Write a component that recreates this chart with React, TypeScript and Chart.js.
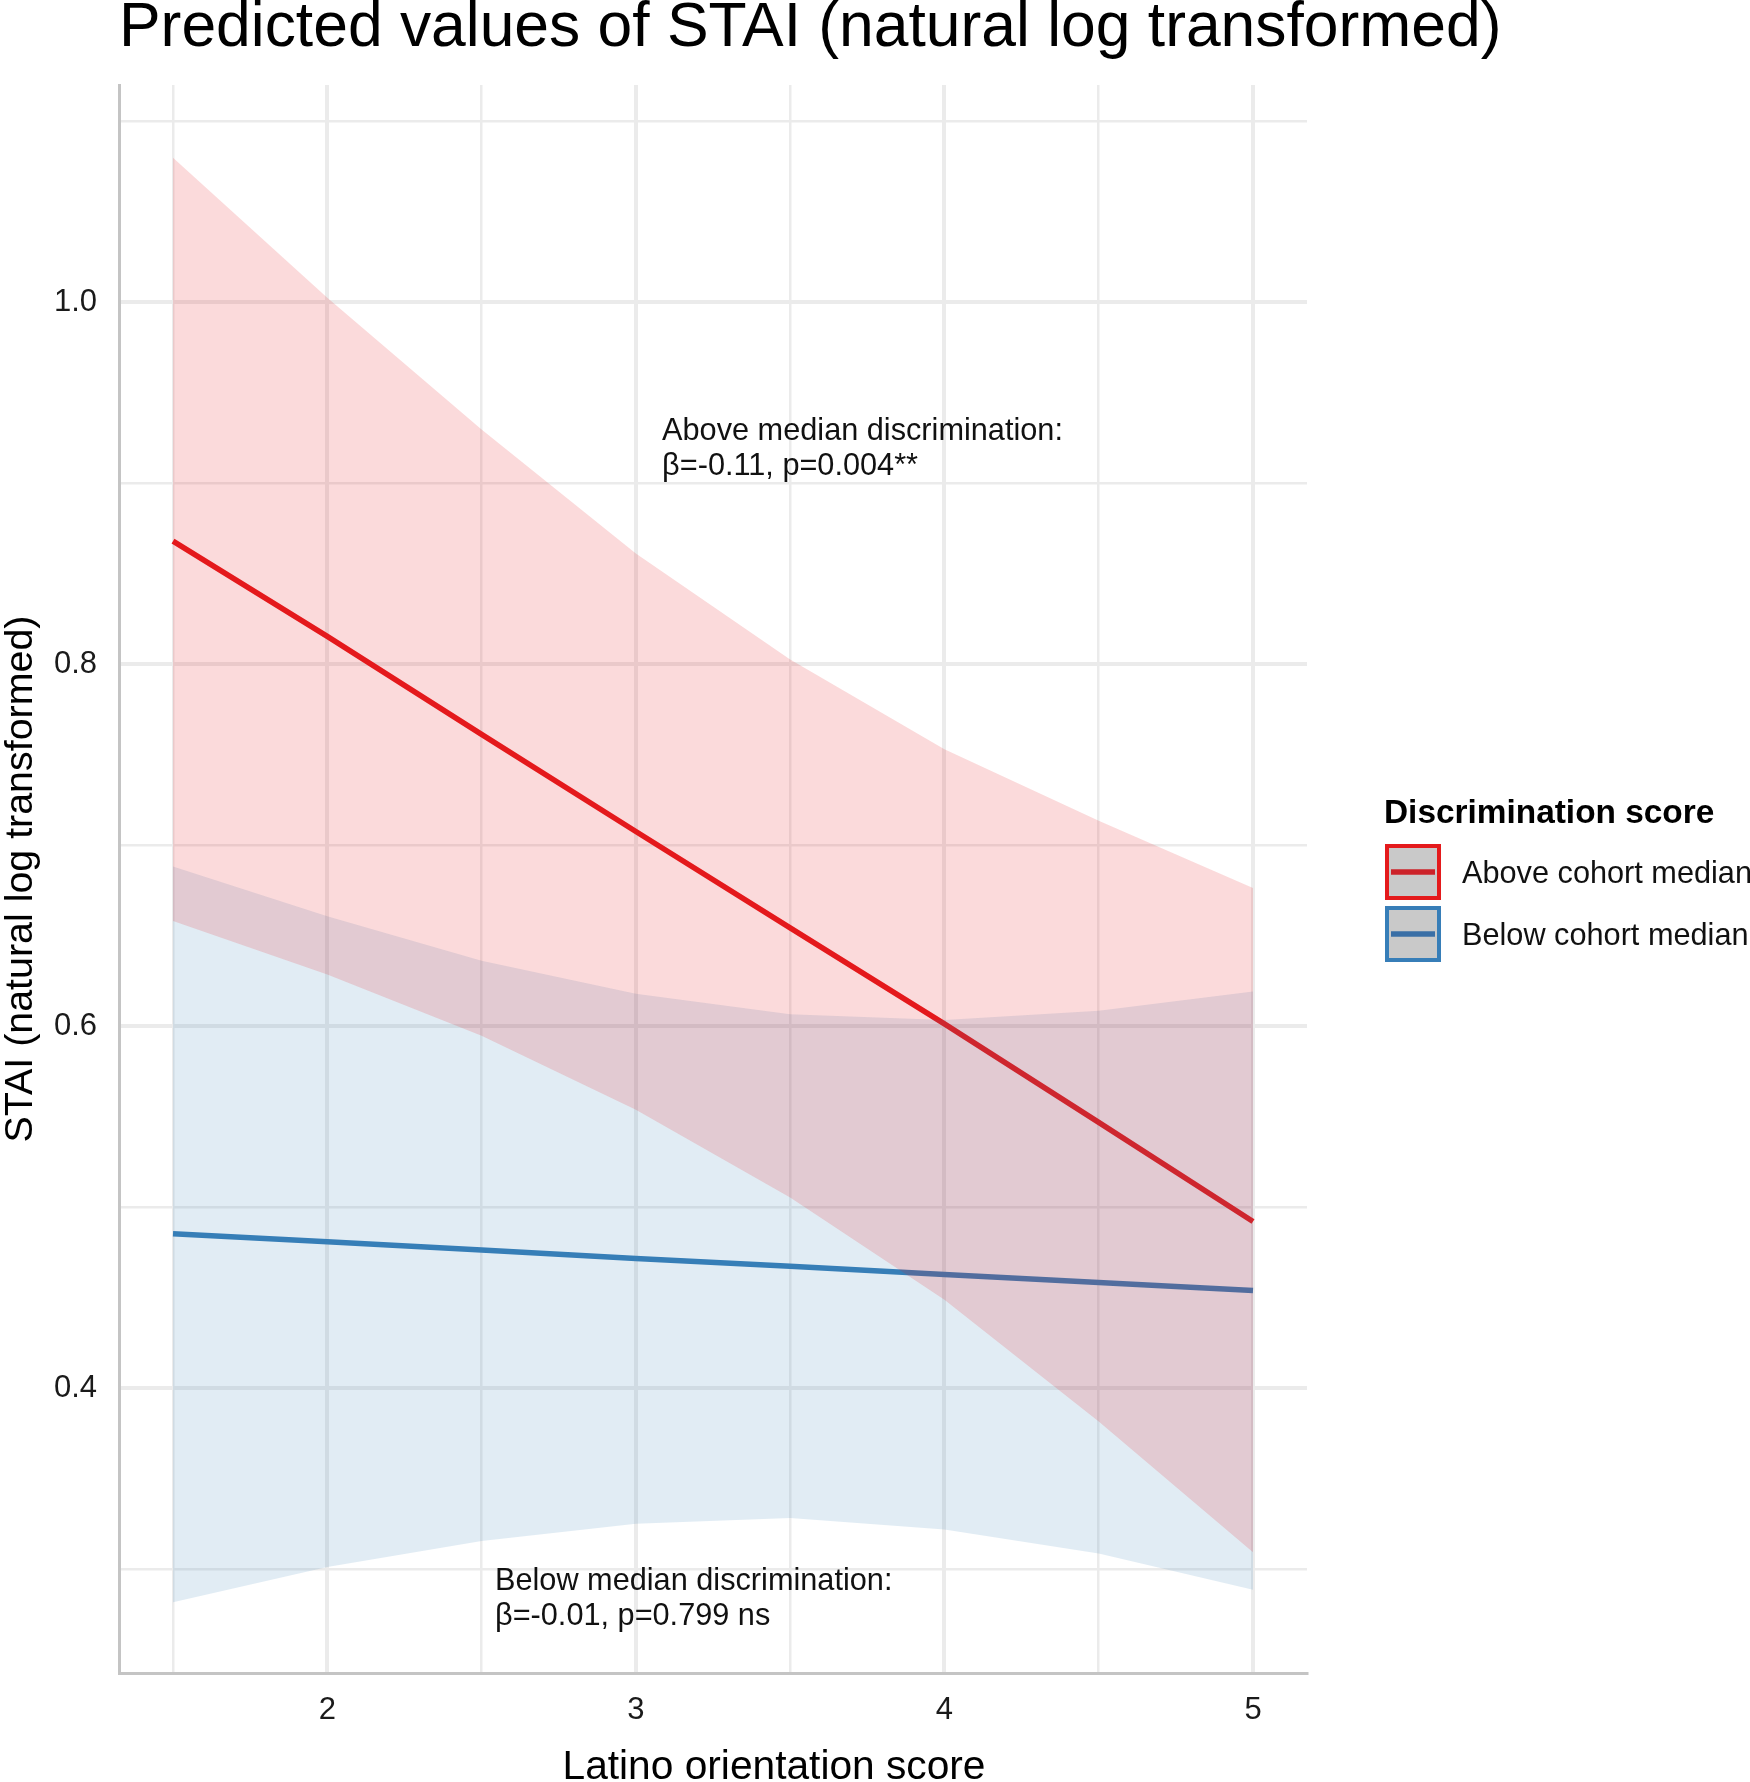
import React, { useEffect, useRef } from 'react';
import { Chart, registerables } from 'chart.js';

Chart.register(...registerables);

// ---- Data ----
const xValues = [1.5, 2, 2.5, 3, 3.5, 4, 4.5, 5];

const aboveFit = [0.868, 0.8153, 0.7612, 0.7075, 0.6542, 0.6012, 0.5468, 0.492];
const aboveUpper = [1.0798, 1.0025, 0.9296, 0.8611, 0.8026, 0.753, 0.7134, 0.6763];
const aboveLower = [0.6581, 0.6285, 0.5946, 0.5537, 0.5053, 0.4488, 0.3815, 0.3092];

const belowFit = [0.4852, 0.4808, 0.4763, 0.4716, 0.4672, 0.4627, 0.4583, 0.4538];
const belowUpper = [0.6882, 0.6606, 0.6361, 0.6179, 0.6065, 0.6034, 0.6084, 0.6191];
const belowLower = [0.2816, 0.3011, 0.3155, 0.325, 0.3281, 0.3218, 0.3086, 0.2885];

const xTicks = [1.5, 2, 2.5, 3, 3.5, 4, 4.5, 5];
const xTickLabels = ['', '2', '', '3', '', '4', '', '5'];
const yTicks = [0.3, 0.4, 0.5, 0.6, 0.7, 0.8, 0.9, 1.0, 1.1];
const yTickLabels = ['', '0.4', '', '0.6', '', '0.8', '', '1.0', ''];

const seriesNames = ['Above cohort median', 'Below cohort median'];
const titleText = 'Predicted values of STAI (natural log transformed)';
const xTitle = 'Latino orientation score';
const yTitle = 'STAI (natural log transformed)';
const legendTitle = 'Discrimination score';
const annotAbove = ['Above median discrimination:', 'β=-0.11, p=0.004**'];
const annotBelow = ['Below median discrimination:', 'β=-0.01, p=0.799 ns'];
const annotAbovePos = [3.085, 0.9287];
const annotBelowPos = [2.5435, 0.2928];

const X_MIN = 1.325;
const X_MAX = 5.175;
const Y_MIN = 0.2425;
const Y_MAX = 1.12;

const RED = '#E41A1C';
const BLUE = '#377EB8';
const RED_FILL = 'rgba(228,26,28,0.16)';
const BLUE_FILL = 'rgba(55,126,184,0.15)';
const FONT = '"Liberation Sans", Arial, Helvetica, sans-serif';

const pts = (ys: number[]) => xValues.map((x, i) => ({ x, y: ys[i] }));

const overlayPlugin = {
  id: 'overlay',
  afterDraw(chart: any) {
    const ctx = chart.ctx as CanvasRenderingContext2D;
    const xs = chart.scales.x;
    const ys = chart.scales.y;
    const area = chart.chartArea;
    ctx.save();
    ctx.fillStyle = '#000';

    // Title
    ctx.font = `62.4px ${FONT}`;
    ctx.textAlign = 'left';
    ctx.textBaseline = 'alphabetic';
    ctx.fillText(titleText, 119, 46);

    // X title
    ctx.font = `40.7px ${FONT}`;
    ctx.textAlign = 'center';
    ctx.fillText(xTitle, 774, 1779);

    // Y title
    ctx.save();
    ctx.font = `39.4px ${FONT}`;
    ctx.translate(32, (area.top + area.bottom) / 2);
    ctx.rotate(-Math.PI / 2);
    ctx.textAlign = 'center';
    ctx.textBaseline = 'alphabetic';
    ctx.fillText(yTitle, 0, 0);
    ctx.restore();

    // Annotations
    ctx.font = `30.7px ${FONT}`;
    ctx.textAlign = 'left';
    ctx.textBaseline = 'middle';
    ctx.fillStyle = '#111';
    const drawAnnot = (lines: string[], pos: number[]) => {
      const px = xs.getPixelForValue(pos[0]);
      const py = ys.getPixelForValue(pos[1]);
      lines.forEach((l, i) => ctx.fillText(l, px, py + i * 35));
    };
    drawAnnot(annotAbove, annotAbovePos);
    drawAnnot(annotBelow, annotBelowPos);

    // Legend
    ctx.fillStyle = '#000';
    ctx.font = `bold 33.4px ${FONT}`;
    ctx.textBaseline = 'alphabetic';
    ctx.fillText(legendTitle, 1384, 823);
    const colors = [RED, BLUE];
    const lineColors = ['#CC2229', '#3A6FA6'];
    seriesNames.forEach((name, i) => {
      const kx = 1385;
      const ky = 844 + i * 62;
      const ks = 56;
      ctx.fillStyle = '#C9C9C9';
      ctx.fillRect(kx, ky, ks, ks);
      ctx.strokeStyle = colors[i];
      ctx.lineWidth = 4;
      ctx.strokeRect(kx + 2, ky + 2, ks - 4, ks - 4);
      ctx.strokeStyle = lineColors[i];
      ctx.lineWidth = 5.5;
      ctx.beginPath();
      ctx.moveTo(kx + 6, ky + ks / 2);
      ctx.lineTo(kx + ks - 6, ky + ks / 2);
      ctx.stroke();
      ctx.fillStyle = '#111';
      ctx.font = `30.7px ${FONT}`;
      ctx.textBaseline = 'middle';
      ctx.fillText(name, 1462, ky + ks / 2 + 3);
      ctx.textBaseline = 'alphabetic';
    });
    ctx.restore();
  },
};

export default function App() {
  const ref = useRef<HTMLCanvasElement | null>(null);

  useEffect(() => {
    document.body.style.margin = '0';
    const canvas = ref.current;
    if (!canvas) return;
    const lineBase = {
      type: 'line' as const,
      pointRadius: 0,
      tension: 0,
    };
    const chart = new Chart(canvas, {
      type: 'line',
      data: {
        datasets: [
          { ...lineBase, label: seriesNames[0], data: pts(aboveFit), borderColor: RED, borderWidth: 5.5, borderCapStyle: 'butt', fill: false, order: 1 },
          { ...lineBase, label: seriesNames[1], data: pts(belowFit), borderColor: BLUE, borderWidth: 5.5, borderCapStyle: 'butt', fill: false, order: 1 },
          { ...lineBase, label: 'aboveUpper', data: pts(aboveUpper), borderWidth: 0, borderColor: 'rgba(0,0,0,0)', backgroundColor: RED_FILL, fill: '+1', order: 0 },
          { ...lineBase, label: 'aboveLower', data: pts(aboveLower), borderWidth: 0, borderColor: 'rgba(0,0,0,0)', fill: false, order: 0 },
          { ...lineBase, label: 'belowUpper', data: pts(belowUpper), borderWidth: 0, borderColor: 'rgba(0,0,0,0)', backgroundColor: BLUE_FILL, fill: '+1', order: 0 },
          { ...lineBase, label: 'belowLower', data: pts(belowLower), borderWidth: 0, borderColor: 'rgba(0,0,0,0)', fill: false, order: 0 },
        ],
      },
      options: {
        animation: false,
        responsive: false,
        devicePixelRatio: 1,
        layout: { padding: { top: 85, right: 443, left: 0, bottom: 0 } },
        plugins: {
          legend: { display: false },
          title: { display: false },
          tooltip: { enabled: false },
        },
        scales: {
          x: {
            type: 'linear',
            min: X_MIN,
            max: X_MAX,
            afterBuildTicks: (scale: any) => {
              scale.ticks = xTicks.map((v) => ({ value: v }));
            },
            afterFit: (scale: any) => {
              scale.height = 109;
            },
            ticks: {
              autoSkip: false,
              maxRotation: 0,
              padding: 19,
              color: '#1a1a1a',
              font: { family: FONT, size: 31 },
              callback: (_v: any, i: number) => xTickLabels[i] ?? '',
            },
            grid: {
              drawTicks: false,
              color: '#EBEBEB',
              lineWidth: (c: any) => (c.index % 2 === 1 ? 4 : 2.5),
            },
            border: { display: true, color: '#C4C4C4', width: 3 },
          },
          y: {
            type: 'linear',
            min: Y_MIN,
            max: Y_MAX,
            afterBuildTicks: (scale: any) => {
              scale.ticks = yTicks.map((v) => ({ value: v }));
            },
            afterFit: (scale: any) => {
              scale.width = 119;
            },
            ticks: {
              autoSkip: false,
              padding: 22,
              color: '#1a1a1a',
              font: { family: FONT, size: 31 },
              callback: (_v: any, i: number) => yTickLabels[i] ?? '',
            },
            grid: {
              drawTicks: false,
              color: '#EBEBEB',
              lineWidth: (c: any) => (c.index % 2 === 1 ? 4 : 2.5),
            },
            border: { display: true, color: '#C4C4C4', width: 3 },
          },
        },
      },
      plugins: [overlayPlugin],
    } as any);
    return () => chart.destroy();
  }, []);

  return (
    <div style={{ width: 1750, height: 1782, position: 'relative', background: '#fff' }}>
      <canvas ref={ref} width={1750} height={1782} style={{ display: 'block' }} />
    </div>
  );
}
